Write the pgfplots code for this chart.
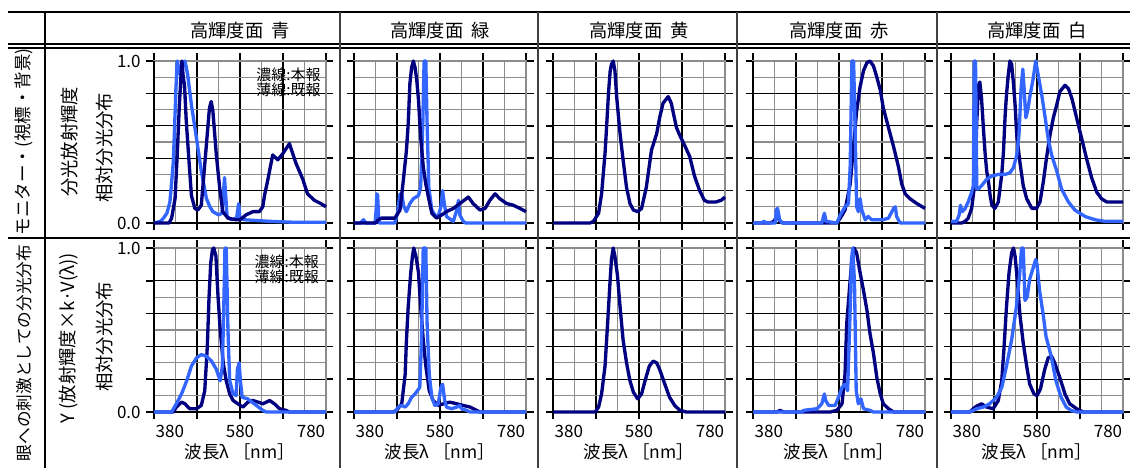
\documentclass[border=0pt]{standalone}
\usepackage{fontspec}
\setmainfont{Noto Sans CJK JP}
\usepackage{pgfplots}
\pgfplotsset{compat=1.18}
\definecolor{navy}{RGB}{0,0,128}
\definecolor{lblue}{RGB}{51,102,255}
\definecolor{gridgray}{RGB}{140,140,140}
\pgfplotsset{
  panel/.style={
    scale only axis, width=103.2pt,
    xmin=380,xmax=780,ymin=0,ymax=1,
    xtick={380,480,580,680,780}, minor xtick={430,530,630,730},
    ytick={0,0.2,0.4,0.6,0.8,1}, minor ytick={0.1,0.3,0.5,0.7,0.9},
    grid=both,
    major grid style={black, line width=0.7pt},
    minor grid style={gridgray, line width=0.8pt},
    axis line style={gridgray, line width=0.9pt},
    tick align=outside, major tick length=4.5pt, minor tick length=0pt,
    major tick style={black, line width=1pt},
    xticklabels={}, yticklabels={},
    clip=false,
    tick label style={font=\fontsize{10.2}{12}\selectfont},
    /pgf/number format/assume math mode=true,
    anchor=south west,
  },
  row1/.style={height=97.2pt},
  row2/.style={height=98.4pt, xticklabels={\makebox[0pt][l]{\hspace{1pt}380},,\mbox{580},,\makebox[0pt][r]{780\hspace{0.5pt}}}},
  col1/.style={yticklabels={\mbox{0.0},,,,,\mbox{1.0}}},
  nv/.style={color=navy, line width=2pt, no markers, line join=round},
  lb/.style={color=lblue, line width=2pt, no markers, line join=round},
}
\newcommand{\blk}{\draw[black, line width=1.2pt] (rel axis cs:0,1) -- (rel axis cs:0,0) -- (rel axis cs:1,0);}
\begin{document}
\begin{tikzpicture}[x=0.6pt,y=0.6pt]
\path[use as bounding box] (0,0) rectangle (1130,468);
% table lines
\draw[line width=1.2pt] (8,456) -- (1130,456);
\draw[line width=0.7pt] (8,424) -- (1130,424);
\draw[line width=0.7pt] (8,420) -- (1130,420);
\draw[line width=0.7pt] (8,230) -- (1130,230);
\draw[line width=0.7pt] (45,456) -- (45,0);
\foreach \xx in {340,538,737,937} {\draw[line width=0.7pt, black!75] (\xx,456) -- (\xx,0);}
% headers
\foreach \xx/\tt in {240/青,440/緑,639/黄,839/赤,1037/白} {
  \node[font=\fontsize{11}{13}\selectfont] at (\xx,437) {高輝度面\hspace{0.45em}\tt};
}
% row labels
\node[rotate=90, font=\fontsize{10.5}{12}\selectfont] at (24,326) {モニター・(視標・背景)};
\node[rotate=90, font=\fontsize{10}{12}\selectfont] at (24,115) {眼への刺激としての分光分布};
\node[rotate=90, font=\fontsize{11}{13}\selectfont] at (70,326) {分光放射輝度};
\node[rotate=90, font=\fontsize{11}{13}\selectfont] at (105,320) {相対分光分布};
\node[rotate=90, font=\fontsize{11}{13}\selectfont] at (69,130) {Y (放射輝度×k·V(λ))};
\node[rotate=90, font=\fontsize{11}{13}\selectfont] at (105,131) {相対分光分布};
% x labels
\foreach \xx in {240,440,639,839,1037} {
  \node[font=\fontsize{10.5}{12}\selectfont] at (\xx,16) {波長λ\hspace{0.2em}［nm］};
}

% ---------- row 1 ----------
\begin{axis}[panel,row1,col1,at={(92.4pt,147pt)}]
\blk
\addplot[lb] coordinates {(380,0)(395,0.01)(402,0.03)(410,0.06)(417,0.13)(421,0.25)(425,0.38)(428,0.6)(431,0.83)(434,1.0)(438,0.95)(442,0.91)(447,0.97)(452,1.0)(458,0.92)(467,0.73)(479,0.52)(490,0.32)(502,0.15)(510,0.1)(517,0.07)(530,0.05)(538,0.06)(542,0.2)(544,0.28)(546,0.2)(550,0.04)(560,0.02)(572,0.03)(577,0.12)(580,0.03)(590,0.02)(620,0.015)(650,0.01)(700,0.005)(780,0.005)};
\addplot[nv] coordinates {(380,0)(415,0)(421,0.03)(429,0.15)(434,0.42)(439,0.73)(442,0.87)(445,1.0)(448,0.9)(451,0.85)(455,0.63)(462,0.36)(467,0.17)(475,0.09)(482,0.08)(490,0.11)(498,0.36)(503,0.52)(509,0.71)(513,0.75)(517,0.69)(525,0.42)(533,0.21)(540,0.07)(552,0.03)(570,0.02)(580,0.02)(594,0.05)(610,0.07)(625,0.07)(633,0.1)(637,0.17)(645,0.27)(656,0.42)(668,0.39)(680,0.43)(695,0.49)(710,0.37)(726,0.27)(737,0.18)(753,0.14)(768,0.12)(780,0.1)};
\node[anchor=north east, font=\fontsize{9}{10}\selectfont, align=right, inner sep=1pt] at (rel axis cs:0.98,0.97) {濃線:本報\\[-1pt]薄線:既報};
\end{axis}

\begin{axis}[panel,row1,at={(212.4pt,147pt)}]
\blk
\addplot[lb] coordinates {(380,0)(395,0)(402,0.02)(408,0)(429,0)(432,0.1)(433,0.18)(435,0.17)(437,0.05)(438,0)(475,0)(481,0.06)(487,0.18)(491,0.18)(496,0.1)(502,0.07)(510,0.12)(518,0.15)(530,0.17)(535,0.22)(540,0.61)(543,1.0)(547,1.0)(550,0.61)(554,0.22)(561,0.08)(568,0.05)(576,0.04)(582,0.1)(586,0.2)(590,0.12)(595,0.04)(611,0.01)(619,0.08)(623,0.14)(626,0.05)(634,0.01)(640,0)(780,0)};
\addplot[nv] coordinates {(380,0)(430,0)(437,0.02)(444,0.03)(475,0.03)(487,0.08)(495,0.27)(502,0.45)(506,0.61)(510,0.86)(514,0.96)(518,1.0)(522,0.96)(526,0.88)(530,0.76)(535,0.53)(541,0.35)(547,0.24)(553,0.16)(561,0.06)(572,0.03)(584,0.05)(595,0.07)(611,0.09)(626,0.12)(646,0.16)(657,0.12)(673,0.08)(685,0.09)(696,0.14)(708,0.18)(719,0.15)(735,0.12)(750,0.11)(766,0.09)(780,0.07)};
\end{axis}

\begin{axis}[panel,row1,at={(331.8pt,147pt)}]
\blk
\addplot[nv] coordinates {(380,0)(466,0)(474,0.01)(486,0.06)(493,0.18)(501,0.43)(505,0.61)(509,0.8)(513,0.94)(516,0.98)(520,1.0)(524,0.94)(528,0.78)(536,0.55)(543,0.39)(551,0.22)(559,0.12)(567,0.08)(577,0.07)(586,0.09)(597,0.22)(609,0.45)(621,0.55)(628,0.65)(636,0.74)(648,0.78)(655,0.74)(667,0.59)(675,0.54)(686,0.48)(698,0.41)(709,0.29)(721,0.2)(732,0.14)(740,0.13)(759,0.13)(771,0.14)(780,0.16)};
\end{axis}

\begin{axis}[panel,row1,at={(451.8pt,147pt)}]
\blk
\addplot[nv] coordinates {(380,0)(420,0)(428,0.01)(436,0.04)(443,0.01)(450,0)(575,0)(583,0.03)(594,0.08)(606,0.24)(615,0.51)(621,0.69)(629,0.84)(637,0.94)(645,0.99)(652,1.0)(660,0.97)(668,0.9)(676,0.82)(683,0.71)(695,0.59)(707,0.47)(718,0.35)(726,0.24)(734,0.18)(745,0.15)(761,0.12)(780,0.09)};
\addplot[lb] coordinates {(380,0)(400,0)(405,0.01)(412,0)(432,0)(434,0.08)(437,0.09)(442,0.02)(448,0)(540,0)(546,0.06)(550,0.01)(575,0)(583,0.05)(594,0.1)(602,0.12)(606,0.35)(610,1.0)(614,1.0)(618,0.51)(621,0.1)(625,0.07)(629,0.15)(633,0.08)(641,0.02)(648,0.04)(656,0.02)(683,0.02)(695,0.03)(707,0.09)(711,0.1)(714,0.04)(722,0)(780,0)};
\end{axis}

\begin{axis}[panel,row1,at={(570.6pt,147pt)}]
\blk
\addplot[nv] coordinates {(380,0)(405,0)(413,0.01)(420,0.03)(428,0.09)(436,0.26)(440,0.63)(444,0.85)(447,0.87)(451,0.77)(455,0.6)(459,0.44)(463,0.32)(467,0.26)(471,0.17)(475,0.11)(482,0.09)(490,0.13)(498,0.3)(502,0.44)(506,0.67)(509,0.79)(513,0.91)(517,1.0)(521,0.98)(525,0.87)(529,0.73)(533,0.54)(540,0.38)(548,0.23)(556,0.15)(568,0.09)(579,0.09)(587,0.13)(595,0.26)(602,0.4)(610,0.54)(618,0.65)(626,0.73)(633,0.81)(645,0.85)(653,0.83)(661,0.77)(672,0.65)(684,0.52)(695,0.4)(707,0.28)(719,0.19)(730,0.15)(742,0.13)(761,0.13)(780,0.13)};
\addplot[lb] coordinates {(380,0.01)(393,0.01)(399,0.05)(402,0.11)(406,0.07)(413,0.09)(420,0.13)(428,0.19)(432,0.23)(434,1.0)(437,1.0)(440,0.21)(444,0.21)(451,0.23)(463,0.27)(475,0.29)(490,0.3)(506,0.3)(517,0.31)(525,0.34)(533,0.42)(538,0.54)(543,0.83)(547,0.95)(550,0.83)(554,0.65)(558,0.69)(564,0.79)(571,0.89)(577,1.0)(583,0.91)(591,0.79)(599,0.65)(606,0.52)(614,0.42)(626,0.32)(637,0.21)(653,0.13)(668,0.08)(692,0.04)(715,0.02)(738,0.01)(780,0.01)};
\end{axis}

% ---------- row 2 ----------
\begin{axis}[panel,row2,col1,at={(92.4pt,33.6pt)}]
\blk
\addplot[nv] coordinates {(380,0)(425,0)(432,0.03)(444,0.06)(452,0.05)(463,0.02)(479,0.02)(490,0.04)(498,0.13)(504,0.4)(508,0.7)(512,0.91)(516,0.99)(519,1.0)(524,0.95)(529,0.7)(534,0.5)(541,0.3)(548,0.19)(556,0.11)(564,0.07)(575,0.05)(587,0.03)(598,0.06)(610,0.07)(622,0.06)(633,0.05)(649,0.07)(660,0.05)(672,0.02)(687,0.01)(695,0)(780,0)};
\addplot[lb] coordinates {(380,0)(421,0)(432,0.05)(444,0.11)(456,0.19)(467,0.28)(479,0.33)(490,0.35)(502,0.34)(514,0.31)(525,0.26)(534,0.19)(539,0.28)(542,0.6)(545,1.0)(548,1.0)(552,0.5)(556,0.19)(564,0.11)(571,0.1)(574,0.26)(578,0.3)(581,0.19)(585,0.09)(598,0.08)(618,0.04)(633,0.01)(641,0)(780,0)};
\node[anchor=north east, font=\fontsize{9}{10}\selectfont, align=right, inner sep=1pt] at (rel axis cs:0.97,0.97) {濃線:本報\\[-1pt]薄線:既報};
\end{axis}

\begin{axis}[panel,row2,at={(212.4pt,33.6pt)}]
\blk
\addplot[nv] coordinates {(380,0)(471,0)(479,0.01)(491,0.05)(499,0.23)(502,0.44)(506,0.64)(512,0.85)(516,0.95)(519,1.0)(524,0.95)(530,0.85)(535,0.64)(541,0.44)(547,0.28)(555,0.13)(564,0.07)(576,0.04)(588,0.05)(603,0.06)(619,0.05)(634,0.04)(650,0.03)(665,0.01)(673,0)(780,0)};
\addplot[lb] coordinates {(380,0)(475,0)(483,0.03)(491,0.04)(499,0.03)(506,0.05)(514,0.09)(522,0.11)(533,0.15)(537,0.44)(541,1.0)(547,1.0)(550,0.54)(555,0.23)(561,0.09)(568,0.04)(576,0.05)(582,0.15)(586,0.17)(591,0.07)(595,0.03)(607,0.02)(619,0.03)(626,0.04)(630,0.02)(642,0.01)(650,0)(780,0)};
\end{axis}

\begin{axis}[panel,row2,at={(331.8pt,33.6pt)}]
\blk
\addplot[nv] coordinates {(380,0)(478,0)(486,0.03)(493,0.11)(501,0.28)(507,0.54)(513,0.81)(516,0.93)(520,1.0)(524,0.95)(530,0.83)(536,0.64)(543,0.44)(551,0.3)(559,0.19)(567,0.12)(577,0.08)(586,0.11)(594,0.19)(604,0.28)(613,0.31)(621,0.3)(628,0.26)(640,0.17)(651,0.09)(663,0.04)(675,0.01)(690,0)(780,0)};
\end{axis}

\begin{axis}[panel,row2,at={(451.8pt,33.6pt)}]
\blk
\addplot[nv] coordinates {(380,0)(436,0)(443,0.01)(451,0)(560,0)(575,0.01)(587,0.05)(594,0.23)(598,0.54)(604,0.74)(610,0.93)(615,1.0)(621,0.97)(629,0.85)(637,0.74)(645,0.62)(652,0.48)(660,0.36)(668,0.21)(676,0.11)(683,0.05)(695,0.02)(707,0)(780,0)};
\addplot[lb] coordinates {(380,0)(494,0)(498,0.01)(529,0.02)(540,0.05)(546,0.11)(549,0.07)(556,0.04)(571,0.04)(579,0.09)(587,0.15)(594,0.17)(600,0.13)(605,0.54)(609,0.93)(612,1.0)(616,0.79)(620,0.13)(625,0.05)(631,0.08)(637,0.02)(652,0.01)(660,0)(780,0)};
\end{axis}

\begin{axis}[panel,row2,at={(570.6pt,33.6pt)}]
\blk
\addplot[nv] coordinates {(380,0)(424,0)(436,0.03)(451,0.05)(463,0.03)(478,0.02)(490,0.07)(498,0.19)(503,0.38)(509,0.64)(515,0.85)(521,0.97)(525,1.0)(529,0.95)(534,0.81)(540,0.6)(548,0.42)(556,0.28)(563,0.17)(573,0.11)(580,0.1)(588,0.14)(598,0.26)(606,0.33)(614,0.34)(621,0.3)(633,0.21)(645,0.11)(656,0.05)(672,0.02)(687,0)(780,0)};
\addplot[lb] coordinates {(380,0)(424,0)(440,0.02)(455,0.03)(470,0.05)(486,0.09)(498,0.15)(509,0.28)(521,0.44)(532,0.64)(540,0.85)(544,1.0)(548,1.0)(552,0.68)(557,0.7)(563,0.81)(570,0.87)(577,0.93)(580,0.9)(586,0.74)(594,0.6)(601,0.46)(613,0.34)(624,0.19)(636,0.09)(648,0.03)(659,0.01)(672,0)(780,0)};
\end{axis}
\end{tikzpicture}
\end{document}
